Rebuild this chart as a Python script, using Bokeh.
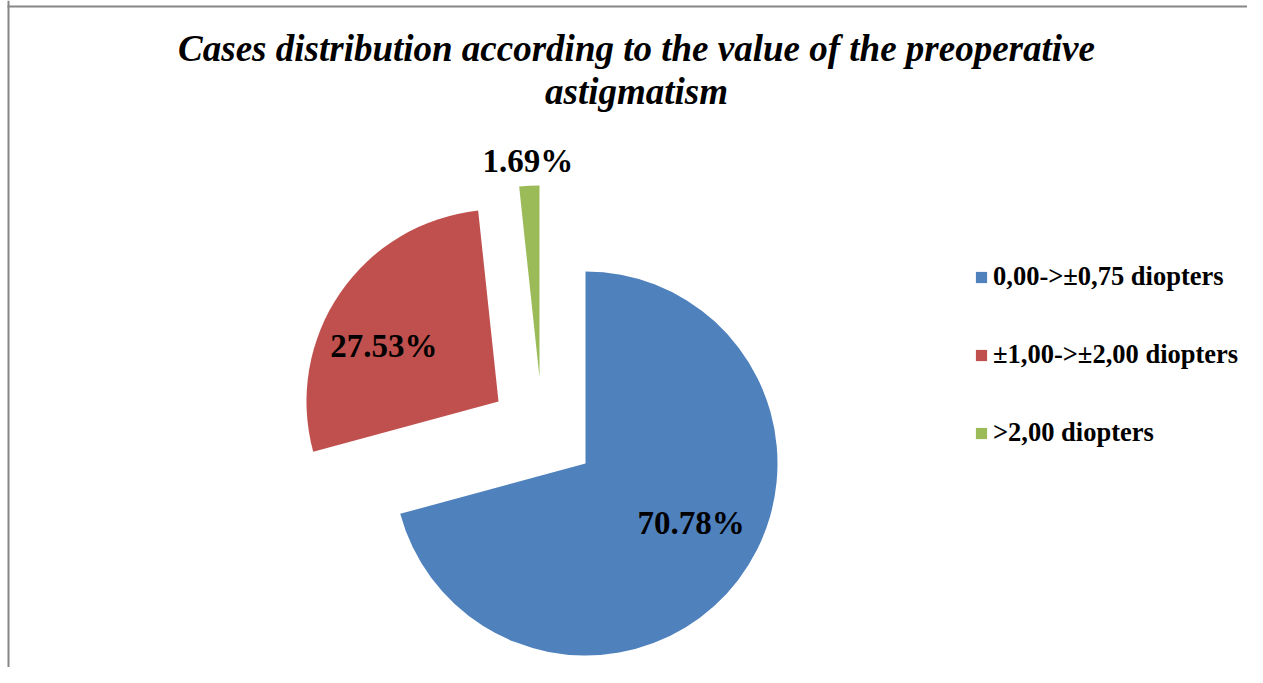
import math
from bokeh.plotting import figure
from bokeh.models import Range1d, ColumnDataSource, Legend, LegendItem
from bokeh.embed import file_html
from bokeh.resources import INLINE
from bokeh.core.properties import value

# ---- data ----
categories = ["0,00->±0,75 diopters", "±1,00->±2,00 diopters", ">2,00 diopters"]
percent = [70.78, 27.53, 1.69]
labels = ["70.78%", "27.53%", "1.69%"]
title_lines = ["Cases distribution according to the value of the preoperative", "astigmatism"]

# ---- style ----
colors = ["#4F81BD", "#C0504D", "#9BBB59"]
W, H = 1247, 667
CX, CY, R = 585, 204, 192
explode = [(0, 0), (-87, 62), (-46, 86)]          # slice displacement (px)
label_k = [0.64, 0.66, 1.13]                       # label distance as fraction of radius
label_nudge = [(8, 15), (-10, -16), (0, 0)]
FONT = "Liberation Serif"

p = figure(width=W, height=H, x_range=Range1d(0, W), y_range=Range1d(0, H),
           output_backend="svg", toolbar_location=None, min_border=0)
p.axis.visible = False
p.grid.visible = False
p.outline_line_color = None
p.background_fill_color = "white"
p.border_fill_color = "white"

total = sum(percent)
starts, ends, xs, ys, lx, ly = [], [], [], [], [], []
cum = 0.0
for i, v in enumerate(percent):
    a0 = math.pi / 2 - 2 * math.pi * cum / total
    cum += v
    a1 = math.pi / 2 - 2 * math.pi * cum / total
    starts.append(a0)
    ends.append(a1)
    x0 = CX + explode[i][0]
    y0 = CY + explode[i][1]
    xs.append(x0)
    ys.append(y0)
    mid = (a0 + a1) / 2
    lx.append(x0 + R * label_k[i] * math.cos(mid) + label_nudge[i][0])
    ly.append(y0 + R * label_k[i] * math.sin(mid) + label_nudge[i][1])

src = ColumnDataSource(dict(x=xs, y=ys, start=starts, end=ends, color=colors,
                            cat=categories, lab=labels, lx=lx, ly=ly))

wedges = p.wedge(x="x", y="y", radius=R, start_angle="start", end_angle="end",
                 direction="clock", fill_color="color", line_color=None, source=src)

p.text(x="lx", y="ly", text="lab", source=src, text_font=value(FONT),
       text_font_style="bold", text_font_size="33px", text_align="center",
       text_baseline="middle", text_color="black")

# title
p.text(x=[636, 636], y=[619, 576], text=title_lines, text_font=value(FONT),
       text_font_style="bold italic", text_font_size="37px", text_align="center",
       text_baseline="alphabetic", text_color="black")

# chart area border (left and top edges visible)
p.segment(x0=[8, 7], y0=[0, H - 6], x1=[8, W], y1=[H, H - 6],
          line_color="#868686", line_width=2)

legend = Legend(items=[LegendItem(label=categories[i], renderers=[wedges], index=i)
                       for i in range(len(categories))],
                location=(974, 219), orientation="vertical",
                glyph_width=14, glyph_height=14, label_height=26,
                spacing=47, label_standoff=5, padding=0, margin=0,
                border_line_color=None, background_fill_alpha=0,
                label_text_font=FONT, label_text_font_style="bold",
                label_text_font_size="26.5px", label_text_color="black")
p.add_layout(legend, "center")

open("out.html", "w").write(file_html(p, INLINE))
